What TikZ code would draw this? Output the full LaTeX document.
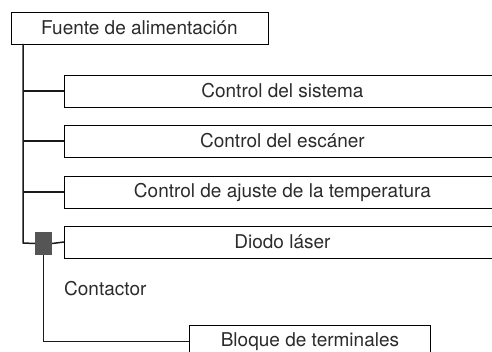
\documentclass[tikz,border=0pt]{standalone}
\usepackage{fontspec}
\setmainfont{TeX Gyre Heros}
\usepackage{tikz}
\usetikzlibrary{positioning}
\definecolor{wiregray}{HTML}{1A1A1A}
\definecolor{contgray}{HTML}{555555}
\definecolor{txtgray}{HTML}{2B2B2B}

\begin{document}
\begin{tikzpicture}[x=1pt, y=-1pt,
    unit/.style={rectangle, draw=black, line width=0.9pt, minimum height=32pt,
                 inner sep=0pt, font=\fontsize{19}{22}\selectfont, text=txtgray},
    wire/.style={line width=1.5pt, wiregray},
    lbl/.style={font=\fontsize{19}{22}\selectfont, text=txtgray, inner sep=0pt}
]
    \useasboundingbox (0,0) rectangle (492,352);
    \clip (0,0) rectangle (492,352);

    % Power supply
    \node[unit, minimum width=257pt] (fuente) at (139.5,28) {Fuente de alimentaci\'on};

    % Units on the main rail
    \node[unit, minimum width=436pt, anchor=west] (sistema) at (64,91) {Control del sistema};
    \node[unit, minimum width=436pt, anchor=west] (escaner) at (64,141) {Control del esc\'aner};
    \node[unit, minimum width=436pt, anchor=west] (temp) at (64,192) {Control de ajuste de la temperatura};
    \node[unit, minimum width=436pt, anchor=west] (laser) at (64,242) {Diodo l\'aser};

    % Contactor
    \node[fill=contgray, minimum width=17pt, minimum height=23pt, inner sep=0pt] (cont) at (43.5,243.5) {};
    \node[lbl, anchor=west] (contlbl) at (64,289) {Contactor};

    % Terminal block
    \node[unit, minimum width=241pt, anchor=north west] (bloque) at (189,325) {Bloque de terminales};

    % Rails
    \coordinate (railtop) at (23,44);
    \coordinate (railbot) at (23,243);
    \draw[wire] (railtop) -- (railbot) -- (cont.west);
    \foreach \u in {sistema, escaner, temp}
        \draw[wire] (railtop |- \u.west) -- (\u.west);
    \draw[wire] (cont.east) -- (laser.west);
    \draw[wire] (cont.south) |- (bloque.west);

\end{tikzpicture}
\end{document}
